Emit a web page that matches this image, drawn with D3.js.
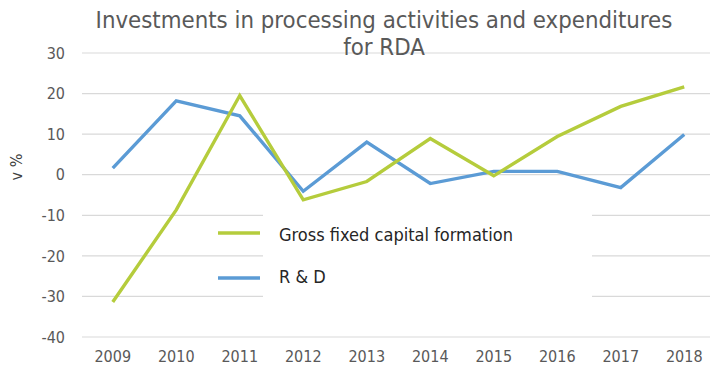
<!DOCTYPE html>
<html>
<head>
<meta charset="utf-8">
<script src="https://cdn.jsdelivr.net/npm/d3@7"></script>
<style>
  body { margin: 0; background: #fff; }
  svg text { font-family: "DejaVu Sans Condensed", "DejaVu Sans", sans-serif; fill: #595959; }
</style>
</head>
<body>
<svg id="chart" width="710" height="366"></svg>
<script>
const years = ["2009","2010","2011","2012","2013","2014","2015","2016","2017","2018"];
const gfcf = [-31.5, -8.8, 19.4, -6.3, -1.8, 8.8, -0.4, 9.3, 16.7, 21.5];
const rnd  = [1.5, 18.1, 14.4, -4.2, 7.9, -2.3, 0.7, 0.7, -3.3, 9.8];
const yTicks = [30, 20, 10, 0, -10, -20, -30, -40];
const seriesNames = ["Gross fixed capital formation", "R \u0026 D"];
const titleLines = ["Investments in processing activities and expenditures", "for RDA"];
const yAxisLabel = "v %";

const svg = d3.select("#chart");
const x = d3.scaleBand().domain(years).range([81, 716]);
const y = d3.scaleLinear().domain([-40, 30]).range([336.5, 52.5]);

function fitWidth(sel, target) {
  const w = sel.node().getComputedTextLength();
  const fs = parseFloat(sel.style("font-size"));
  const nfs = fs * target / w;
  sel.style("font-size", nfs.toFixed(2) + "px");
  return nfs;
}

// gridlines
const yAxis = d3.axisLeft(y).tickValues(yTicks).tickSize(-(710 - 82)).tickFormat(d => String(d));
const gy = svg.append("g").attr("transform", "translate(82,0)").call(yAxis);
gy.select(".domain").remove();
gy.selectAll(".tick line").attr("stroke", "#d9d9d9").attr("stroke-width", 1.2);
gy.selectAll(".tick text").attr("x", -17).attr("dy", "0.36em")
  .style("font-size", "16px").style("fill", "#595959");

// x axis labels
const xAxis = d3.axisBottom(x).tickSize(0);
const gx = svg.append("g").attr("transform", "translate(0,336.5)").call(xAxis);
gx.select(".domain").remove();
gx.selectAll(".tick text").attr("y", 25).attr("dy", 0).style("font-size", "16px").style("fill", "#595959");

// lines
const line = d3.line().x((d, i) => x(years[i]) + x.bandwidth() / 2).y(d => y(d));
svg.append("path").datum(rnd).attr("d", line).attr("fill", "none")
  .attr("stroke", "#5b9bd5").attr("stroke-width", 3.4).attr("stroke-linejoin", "miter");
svg.append("path").datum(gfcf).attr("d", line).attr("fill", "none")
  .attr("stroke", "#b5cc3c").attr("stroke-width", 3.4).attr("stroke-linejoin", "miter");

// legend (white box behind)
svg.append("rect").attr("x", 263).attr("y", y(-8)).attr("width", 592 - 263).attr("height", y(-33) - y(-8)).attr("fill", "#fff");
const legendColors = ["#b5cc3c", "#5b9bd5"];
const legendLineY = [233, 278];
const legendTextY = [241, 283];
let legendFs = 16;
seriesNames.forEach((name, i) => {
  svg.append("line").attr("x1", 218).attr("x2", 260).attr("y1", legendLineY[i]).attr("y2", legendLineY[i])
    .attr("stroke", legendColors[i]).attr("stroke-width", 3.4);
  const t = svg.append("text").attr("x", 279).attr("y", legendTextY[i])
    .style("font-size", legendFs + "px").style("fill", "#262626").text(name);
  if (i === 0) legendFs = fitWidth(t, 234);
});

// title
let titleFs = 21;
titleLines.forEach((t, i) => {
  const el = svg.append("text").attr("x", 384).attr("y", 28 + i * 27).attr("text-anchor", "middle")
    .style("font-size", titleFs + "px").style("fill", "#595959").text(t);
  if (i === 0) titleFs = fitWidth(el, 577);
});

// y label
svg.append("text").attr("transform", "translate(22,167) rotate(-90)").attr("text-anchor", "middle")
  .style("font-size", "16px").style("fill", "#404040").text(yAxisLabel);
</script>
</body>
</html>
